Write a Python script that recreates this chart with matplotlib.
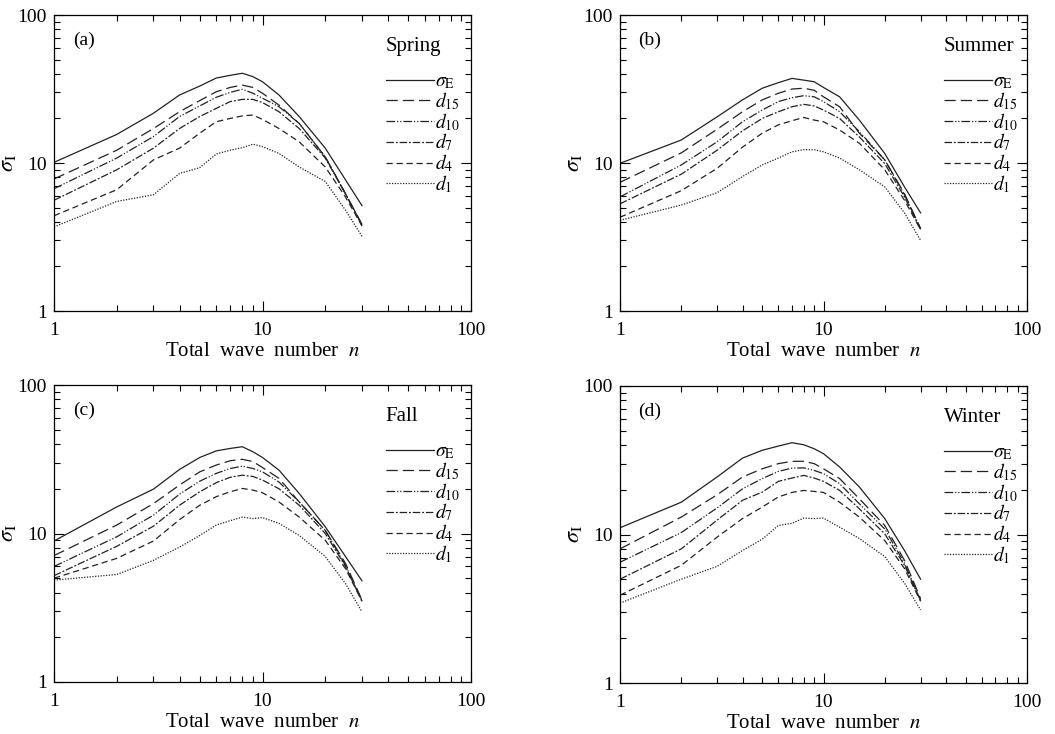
import numpy as np
import matplotlib
matplotlib.use("Agg")
import matplotlib.pyplot as plt
from matplotlib.ticker import LogLocator, NullFormatter, FixedLocator, FixedFormatter

plt.rcParams["font.family"] = ["Liberation Serif", "DejaVu Serif"]
plt.rcParams["mathtext.fontset"] = "stix"

# Total wave number
n = [1, 2, 3, 4, 5, 6, 7, 8, 9, 10, 12, 15, 20, 25, 30]

# Spring
spring_E = [10.1, 15.6, 21.7, 28.8, 33.1, 37.5, 39.1, 40.4, 38.3, 35.4, 28.8, 20.6, 12.6, 7.7, 5.15]
spring_d15 = [7.8, 12.2, 17.1, 22.2, 26.4, 30.3, 32.4, 33.6, 32.4, 29.6, 24.6, 18.5, 11.0, 6.2, 3.85]
spring_d10 = [6.7, 10.8, 15.1, 20.6, 24.3, 27.8, 30.0, 31.5, 29.6, 27.4, 24.0, 18.5, 11.0, 6.2, 3.8]
spring_d7 = [5.6, 9.0, 12.6, 17.1, 20.6, 23.4, 26.0, 26.9, 26.9, 25.6, 22.2, 17.1, 10.8, 6.2, 3.8]
spring_d4 = [4.4, 6.6, 10.5, 12.6, 15.9, 19.0, 20.0, 20.8, 21.1, 19.7, 17.1, 13.9, 9.4, 5.9, 3.75]
spring_d1 = [3.7, 5.5, 6.1, 8.5, 9.3, 11.5, 12.2, 12.7, 13.4, 12.9, 11.6, 9.4, 7.5, 4.8, 3.2]

# Summer
summer_E = [9.95, 14.3, 20.5, 26.7, 32.0, 34.9, 37.3, 36.3, 35.4, 32.4, 28.0, 19.5, 11.6, 6.9, 4.6]
summer_d15 = [7.4, 11.7, 16.9, 22.2, 26.7, 29.6, 31.6, 32.0, 31.0, 28.0, 24.0, 15.9, 10.5, 6.2, 3.6]
summer_d10 = [5.9, 9.7, 13.9, 19.0, 22.8, 26.0, 27.6, 28.5, 28.0, 26.0, 22.2, 16.3, 10.5, 6.1, 3.6]
summer_d7 = [5.3, 8.4, 12.2, 16.5, 20.0, 22.2, 24.0, 24.9, 24.3, 22.8, 20.0, 15.0, 9.9, 5.9, 3.55]
summer_d4 = [4.3, 6.5, 9.2, 12.8, 15.9, 18.1, 19.3, 20.3, 19.5, 19.0, 16.7, 13.6, 9.0, 5.6, 3.55]
summer_d1 = [4.1, 5.2, 6.3, 8.1, 9.7, 10.8, 11.9, 12.3, 12.3, 11.9, 10.8, 9.0, 6.9, 4.6, 3.0]

# Fall
fall_E = [8.9, 15.1, 19.9, 27.0, 32.5, 36.0, 37.4, 38.4, 35.5, 32.5, 26.7, 18.6, 11.1, 7.0, 4.8]
fall_d15 = [7.1, 11.4, 15.9, 21.2, 26.0, 28.9, 30.9, 31.6, 30.5, 27.8, 23.5, 16.3, 10.5, 6.3, 3.55]
fall_d10 = [6.0, 9.5, 13.3, 18.4, 22.5, 25.4, 27.4, 28.4, 27.4, 26.0, 22.2, 16.3, 10.5, 6.1, 3.55]
fall_d7 = [5.2, 8.2, 11.2, 15.5, 19.1, 22.0, 23.9, 24.7, 24.2, 22.9, 20.0, 15.5, 10.0, 6.0, 3.5]
fall_d4 = [5.0, 6.8, 8.9, 12.4, 15.5, 17.7, 19.1, 20.1, 19.6, 18.8, 16.3, 12.9, 9.0, 5.8, 3.5]
fall_d1 = [4.85, 5.3, 6.6, 8.1, 9.7, 11.4, 12.2, 12.9, 12.6, 12.8, 11.7, 9.7, 7.0, 4.6, 2.97]

# Winter
winter_E = [11.1, 16.5, 24.4, 32.7, 36.9, 39.4, 41.5, 40.2, 37.8, 35.0, 28.5, 20.9, 12.8, 7.8, 5.0]
winter_d15 = [8.0, 13.1, 18.5, 24.4, 27.7, 30.0, 31.1, 31.1, 30.0, 27.7, 23.8, 17.4, 11.5, 6.7, 3.7]
winter_d10 = [6.5, 10.3, 15.1, 20.3, 23.8, 26.6, 28.0, 28.1, 27.0, 25.7, 22.0, 16.1, 10.9, 6.4, 3.6]
winter_d7 = [5.0, 8.0, 12.5, 17.0, 19.3, 22.8, 24.0, 25.0, 24.0, 22.8, 19.8, 14.9, 10.1, 6.2, 3.6]
winter_d4 = [3.9, 6.2, 9.6, 12.8, 15.3, 17.9, 19.2, 19.8, 19.5, 19.2, 16.5, 13.1, 9.1, 5.9, 3.55]
winter_d1 = [3.45, 5.0, 6.1, 7.8, 9.3, 11.5, 11.9, 12.9, 12.8, 12.9, 11.2, 9.4, 7.1, 4.7, 3.1]

seasons = ["Spring", "Summer", "Fall", "Winter"]
panel_tags = ["(a)", "(b)", "(c)", "(d)"]
labels = [r"$\sigma_{\rm E}$", r"$d_{15}$", r"$d_{10}$", r"$d_{7}$", r"$d_{4}$", r"$d_{1}$"]
all_series = [
    [spring_E, spring_d15, spring_d10, spring_d7, spring_d4, spring_d1],
    [summer_E, summer_d15, summer_d10, summer_d7, summer_d4, summer_d1],
    [fall_E, fall_d15, fall_d10, fall_d7, fall_d4, fall_d1],
    [winter_E, winter_d15, winter_d10, winter_d7, winter_d4, winter_d1],
]
styles = [
    "-",
    (0, (9, 4)),
    (0, (7, 1.5, 1, 1.5, 1, 1.5)),
    (0, (6, 1.5, 1.5, 1.5)),
    (0, (5, 3)),
    (0, (1, 1.2)),
]

W, H = 1055, 734
fig = plt.figure(figsize=(W / 100, H / 100), dpi=100)
# axes boxes in pixels: left, right, top, bottom
boxes = [(54, 471, 15, 311), (620, 1027, 15, 311), (54, 471, 385, 682), (620, 1027, 386, 683)]

for k, (l, r, t, b) in enumerate(boxes):
    ax = fig.add_axes([l / W, (H - b) / H, (r - l) / W, (b - t) / H])
    for s, ls, lab in zip(all_series[k], styles, labels):
        ax.plot(n, s, color="#222222", lw=0.9, linestyle=ls, label=lab)
    ax.set_xscale("log")
    ax.set_yscale("log")
    ax.set_xlim(1, 100)
    ax.set_ylim(1, 100)
    for axis in (ax.xaxis, ax.yaxis):
        axis.set_major_locator(FixedLocator([1, 10, 100]))
        axis.set_major_formatter(FixedFormatter(["1", "10", "100"]))
        axis.set_minor_locator(LogLocator(base=10, subs=np.arange(2, 10)))
        axis.set_minor_formatter(NullFormatter())
    ax.tick_params(which="both", direction="in", top=True, right=True, labelsize=14, width=0.8)
    ax.tick_params(which="major", length=7)
    ax.tick_params(axis="x", which="major", pad=8)
    ax.tick_params(axis="y", which="major", pad=5)
    ax.tick_params(which="minor", length=4)
    for sp in ax.spines.values():
        sp.set_linewidth(0.9)
    ax.set_xlabel("Total  wave  number  $n$", fontsize=15, labelpad=2)
    ax.set_ylabel(r"$\sigma_{\rm I}$", fontsize=16, labelpad=0)
    ax.text(0.045, 0.915, panel_tags[k], transform=ax.transAxes, fontsize=14, va="center")
    leg = ax.legend(loc="upper left", bbox_to_anchor=(0.795, 0.925), frameon=False,
                    title=seasons[k], alignment="left", fontsize=14, title_fontsize=15,
                    handlelength=2.5, handletextpad=0.05, labelspacing=-0.05, borderpad=0,
                    borderaxespad=0)
    leg._legend_box.sep = 12

fig.savefig("out.png", dpi=100)
